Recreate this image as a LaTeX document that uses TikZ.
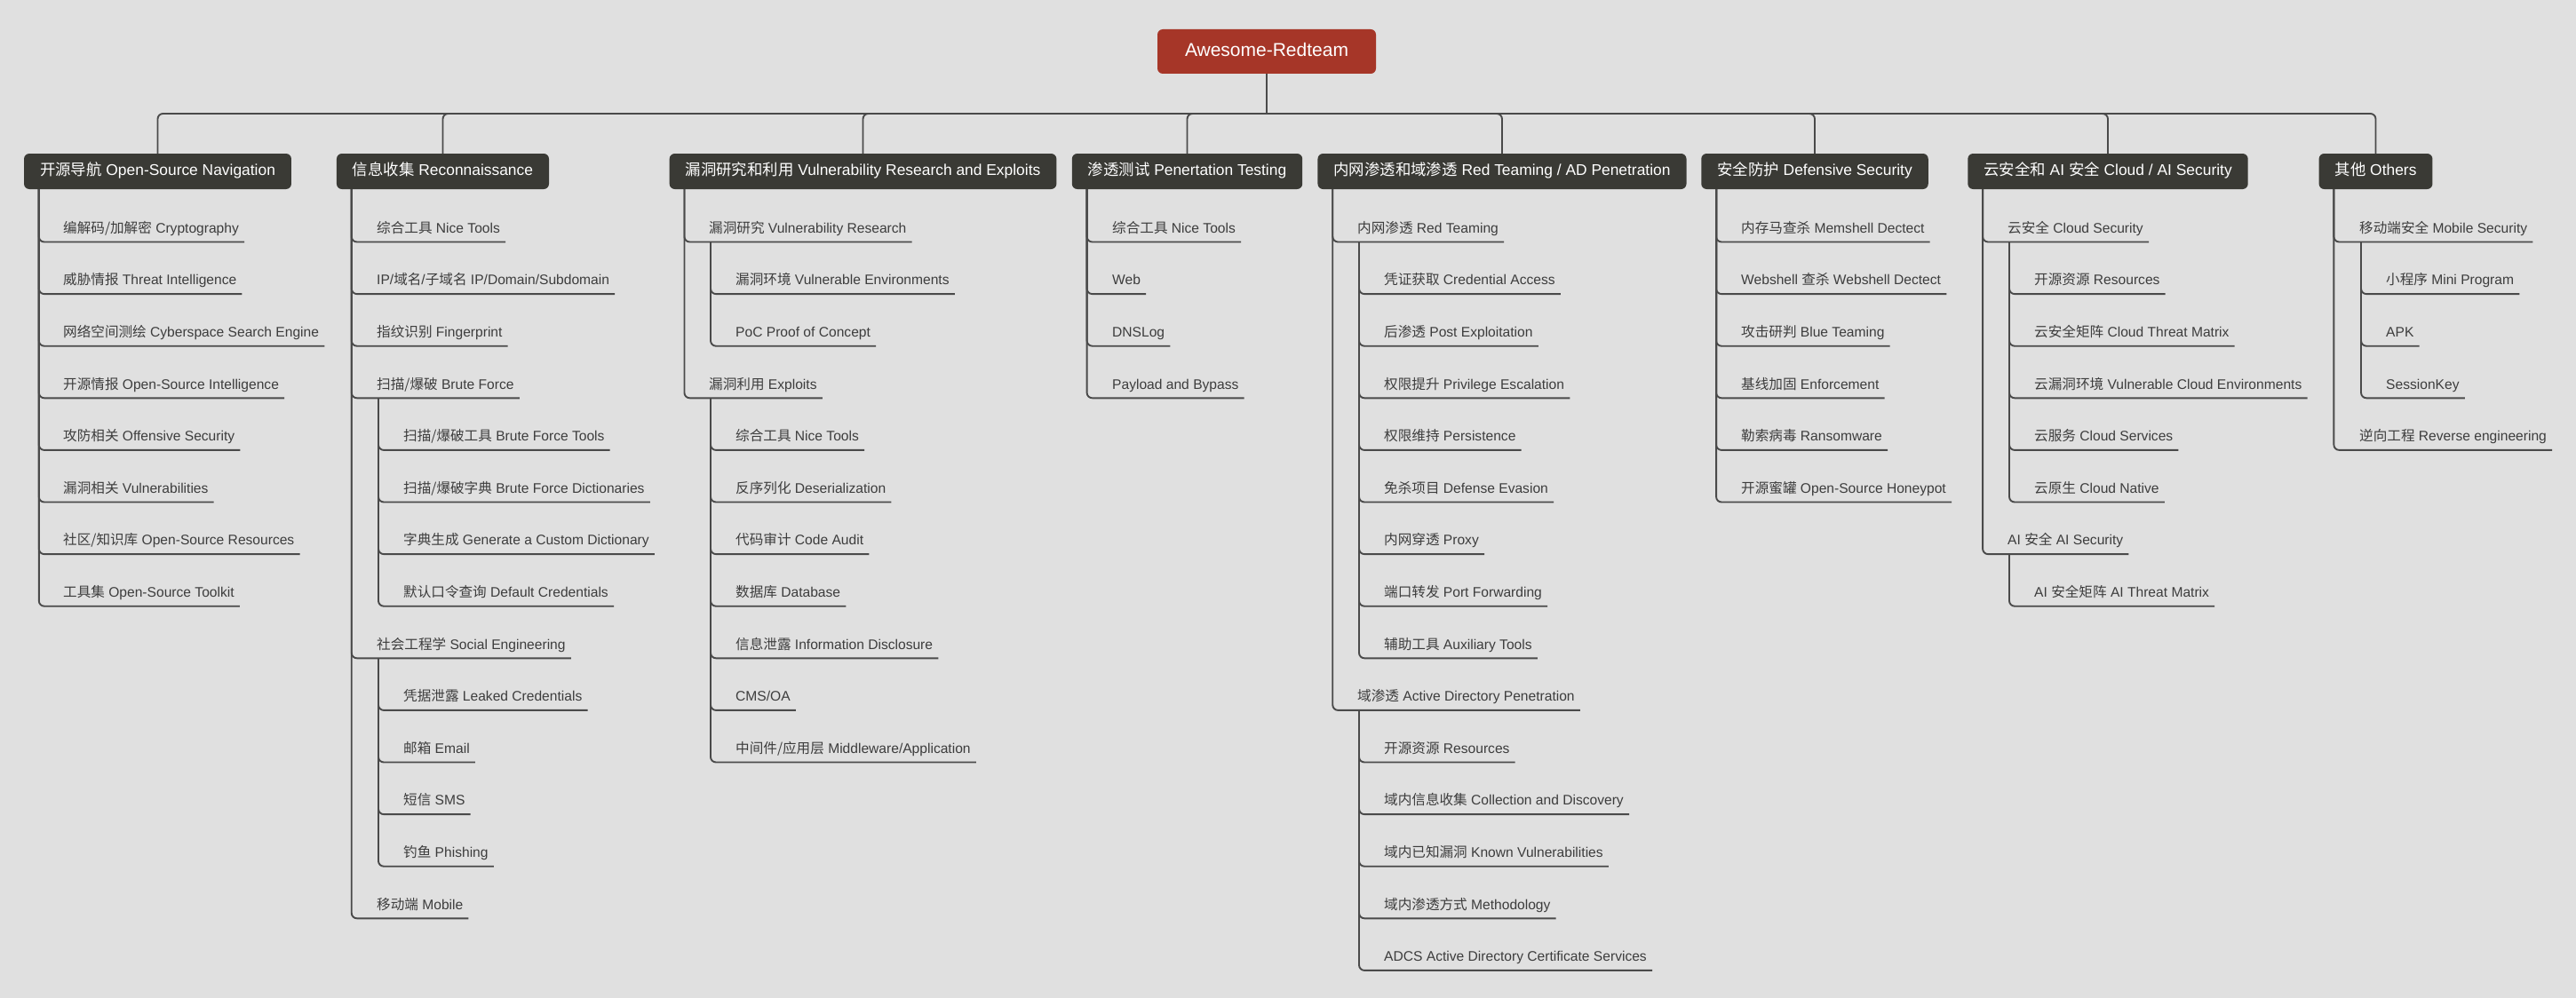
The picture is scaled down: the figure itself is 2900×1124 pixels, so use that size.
\documentclass[tikz,border=0pt]{standalone}
\usepackage{fontspec}
\setmainfont{Liberation Sans}
\newfontfamily\cjk{Noto Sans CJK SC}
\newcommand\zh[1]{{\cjk #1}}

\definecolor{bgcol}{HTML}{E0E0E0}
\definecolor{rootred}{HTML}{A63628}
\definecolor{catdark}{HTML}{3A3A35}
\definecolor{linecol}{HTML}{4A4A4A}
\definecolor{itemtext}{HTML}{3D3D3D}

\tikzset{
  root/.style={fill=rootred, text=white, rounded corners=6pt, inner xsep=31pt,
    minimum height=50pt, text height=15pt, text depth=4pt,
    font=\fontsize{21}{25}\selectfont},
  cat/.style={fill=catdark, text=white, rounded corners=6pt, inner xsep=18pt,
    minimum height=40pt, text height=12.5pt, text depth=3.5pt,
    font=\fontsize{17.4}{21}\selectfont},
  item/.style={anchor=south west, inner xsep=6pt, inner ysep=10pt,
    text height=11pt, text depth=0pt, text=itemtext,
    font=\fontsize{15.6}{19}\selectfont},
  link/.style={draw=linecol, line width=1.9pt, rounded corners=6pt},
}

\begin{document}
\begin{tikzpicture}[x=1pt,y=-1pt]

% background and page size
\fill[bgcol] (0,0) rectangle (2900,1124);
\useasboundingbox (0,0) rectangle (2900,1124);

% root and main branches
\node[root] (root) at (1426,58) {Awesome-Redteam};
\coordinate (hub) at (1426,128);
\node[cat] (nav) at (177.5,193) {\zh{开源导航} Open-Source Navigation};
\node[cat] (rec) at (498.5,193) {\zh{信息收集} Reconnaissance};
\node[cat] (vul) at (971.5,193) {\zh{漏洞研究和利用} Vulnerability Research and Exploits};
\node[cat] (pen) at (1336.5,193) {\zh{渗透测试} Penertation Testing};
\node[cat] (red) at (1691,193) {\zh{内网渗透和域渗透} Red Teaming / AD Penetration};
\node[cat] (def) at (2043,193) {\zh{安全防护} Defensive Security};
\node[cat] (cld) at (2373,193) {\zh{云安全和} AI \zh{安全} Cloud / AI Security};
\node[cat] (oth) at (2674.5,193) {\zh{其他} Others};

\draw[link] (root.south) -- (hub);
\draw[link] (hub) -| (nav.north);
\draw[link] (hub) -| (rec.north);
\draw[link] (hub) -| (vul.north);
\draw[link] (hub) -| (pen.north);
\draw[link] (hub) -| (red.north);
\draw[link] (hub) -| (def.north);
\draw[link] (hub) -| (cld.north);
\draw[link] (hub) -| (oth.north);

% Open-Source Navigation
\node[item] (nav1) at (65,272.5) {\zh{编解码/加解密} Cryptography};
\node[item] (nav2) at (65,331.1) {\zh{威胁情报} Threat Intelligence};
\node[item] (nav3) at (65,389.7) {\zh{网络空间测绘} Cyberspace Search Engine};
\node[item] (nav4) at (65,448.3) {\zh{开源情报} Open-Source Intelligence};
\node[item] (nav5) at (65,506.9) {\zh{攻防相关} Offensive Security};
\node[item] (nav6) at (65,565.5) {\zh{漏洞相关} Vulnerabilities};
\node[item] (nav7) at (65,624.1) {\zh{社区/知识库} Open-Source Resources};
\node[item] (nav8) at (65,682.7) {\zh{工具集} Open-Source Toolkit};

\draw[link] (nav.south west) ++(17,0) |- (nav1.south east);
\draw[link] (nav.south west) ++(17,0) |- (nav2.south east);
\draw[link] (nav.south west) ++(17,0) |- (nav3.south east);
\draw[link] (nav.south west) ++(17,0) |- (nav4.south east);
\draw[link] (nav.south west) ++(17,0) |- (nav5.south east);
\draw[link] (nav.south west) ++(17,0) |- (nav6.south east);
\draw[link] (nav.south west) ++(17,0) |- (nav7.south east);
\draw[link] (nav.south west) ++(17,0) |- (nav8.south east);

% Reconnaissance
\node[item] (rec1) at (418,272.5) {\zh{综合工具} Nice Tools};
\node[item] (rec2) at (418,331.1) {IP/\zh{域名}/\zh{子域名} IP/Domain/Subdomain};
\node[item] (rec3) at (418,389.7) {\zh{指纹识别} Fingerprint};
\node[item] (rec4) at (418,448.3) {\zh{扫描/爆破} Brute Force};
\node[item] (rec41) at (448,506.9) {\zh{扫描/爆破工具} Brute Force Tools};
\node[item] (rec42) at (448,565.5) {\zh{扫描/爆破字典} Brute Force Dictionaries};
\node[item] (rec43) at (448,624.1) {\zh{字典生成} Generate a Custom Dictionary};
\node[item] (rec44) at (448,682.7) {\zh{默认口令查询} Default Credentials};
\node[item] (rec5) at (418,741.3) {\zh{社会工程学} Social Engineering};
\node[item] (rec51) at (448,799.9) {\zh{凭据泄露} Leaked Credentials};
\node[item] (rec52) at (448,858.5) {\zh{邮箱} Email};
\node[item] (rec53) at (448,917.1) {\zh{短信} SMS};
\node[item] (rec54) at (448,975.7) {\zh{钓鱼} Phishing};
\node[item] (rec6) at (418,1034.3) {\zh{移动端} Mobile};

\draw[link] (rec.south west) ++(17,0) |- (rec1.south east);
\draw[link] (rec.south west) ++(17,0) |- (rec2.south east);
\draw[link] (rec.south west) ++(17,0) |- (rec3.south east);
\draw[link] (rec.south west) ++(17,0) |- (rec4.south east);
\draw[link] (rec.south west) ++(17,0) |- (rec5.south east);
\draw[link] (rec.south west) ++(17,0) |- (rec6.south east);
\draw[link] (rec4.south west) ++(8,0) |- (rec41.south east);
\draw[link] (rec4.south west) ++(8,0) |- (rec42.south east);
\draw[link] (rec4.south west) ++(8,0) |- (rec43.south east);
\draw[link] (rec4.south west) ++(8,0) |- (rec44.south east);
\draw[link] (rec5.south west) ++(8,0) |- (rec51.south east);
\draw[link] (rec5.south west) ++(8,0) |- (rec52.south east);
\draw[link] (rec5.south west) ++(8,0) |- (rec53.south east);
\draw[link] (rec5.south west) ++(8,0) |- (rec54.south east);

% Vulnerability Research and Exploits
\node[item] (vul1) at (792,272.5) {\zh{漏洞研究} Vulnerability Research};
\node[item] (vul11) at (822,331.1) {\zh{漏洞环境} Vulnerable Environments};
\node[item] (vul12) at (822,389.7) {PoC Proof of Concept};
\node[item] (vul2) at (792,448.3) {\zh{漏洞利用} Exploits};
\node[item] (vul21) at (822,506.9) {\zh{综合工具} Nice Tools};
\node[item] (vul22) at (822,565.5) {\zh{反序列化} Deserialization};
\node[item] (vul23) at (822,624.1) {\zh{代码审计} Code Audit};
\node[item] (vul24) at (822,682.7) {\zh{数据库} Database};
\node[item] (vul25) at (822,741.3) {\zh{信息泄露} Information Disclosure};
\node[item] (vul26) at (822,799.9) {CMS/OA};
\node[item] (vul27) at (822,858.5) {\zh{中间件/应用层} Middleware/Application};

\draw[link] (vul.south west) ++(17,0) |- (vul1.south east);
\draw[link] (vul.south west) ++(17,0) |- (vul2.south east);
\draw[link] (vul1.south west) ++(8,0) |- (vul11.south east);
\draw[link] (vul1.south west) ++(8,0) |- (vul12.south east);
\draw[link] (vul2.south west) ++(8,0) |- (vul21.south east);
\draw[link] (vul2.south west) ++(8,0) |- (vul22.south east);
\draw[link] (vul2.south west) ++(8,0) |- (vul23.south east);
\draw[link] (vul2.south west) ++(8,0) |- (vul24.south east);
\draw[link] (vul2.south west) ++(8,0) |- (vul25.south east);
\draw[link] (vul2.south west) ++(8,0) |- (vul26.south east);
\draw[link] (vul2.south west) ++(8,0) |- (vul27.south east);

% Penertation Testing
\node[item] (pen1) at (1246,272.5) {\zh{综合工具} Nice Tools};
\node[item] (pen2) at (1246,331.1) {Web};
\node[item] (pen3) at (1246,389.7) {DNSLog};
\node[item] (pen4) at (1246,448.3) {Payload and Bypass};

\draw[link] (pen.south west) ++(17,0) |- (pen1.south east);
\draw[link] (pen.south west) ++(17,0) |- (pen2.south east);
\draw[link] (pen.south west) ++(17,0) |- (pen3.south east);
\draw[link] (pen.south west) ++(17,0) |- (pen4.south east);

% Red Teaming / AD Penetration
\node[item] (red1) at (1522,272.5) {\zh{内网渗透} Red Teaming};
\node[item] (red11) at (1552,331.1) {\zh{凭证获取} Credential Access};
\node[item] (red12) at (1552,389.7) {\zh{后渗透} Post Exploitation};
\node[item] (red13) at (1552,448.3) {\zh{权限提升} Privilege Escalation};
\node[item] (red14) at (1552,506.9) {\zh{权限维持} Persistence};
\node[item] (red15) at (1552,565.5) {\zh{免杀项目} Defense Evasion};
\node[item] (red16) at (1552,624.1) {\zh{内网穿透} Proxy};
\node[item] (red17) at (1552,682.7) {\zh{端口转发} Port Forwarding};
\node[item] (red18) at (1552,741.3) {\zh{辅助工具} Auxiliary Tools};
\node[item] (red2) at (1522,799.9) {\zh{域渗透} Active Directory Penetration};
\node[item] (red21) at (1552,858.5) {\zh{开源资源} Resources};
\node[item] (red22) at (1552,917.1) {\zh{域内信息收集} Collection and Discovery};
\node[item] (red23) at (1552,975.7) {\zh{域内已知漏洞} Known Vulnerabilities};
\node[item] (red24) at (1552,1034.3) {\zh{域内渗透方式} Methodology};
\node[item] (red25) at (1552,1092.9) {ADCS Active Directory Certificate Services};

\draw[link] (red.south west) ++(17,0) |- (red1.south east);
\draw[link] (red.south west) ++(17,0) |- (red2.south east);
\draw[link] (red1.south west) ++(8,0) |- (red11.south east);
\draw[link] (red1.south west) ++(8,0) |- (red12.south east);
\draw[link] (red1.south west) ++(8,0) |- (red13.south east);
\draw[link] (red1.south west) ++(8,0) |- (red14.south east);
\draw[link] (red1.south west) ++(8,0) |- (red15.south east);
\draw[link] (red1.south west) ++(8,0) |- (red16.south east);
\draw[link] (red1.south west) ++(8,0) |- (red17.south east);
\draw[link] (red1.south west) ++(8,0) |- (red18.south east);
\draw[link] (red2.south west) ++(8,0) |- (red21.south east);
\draw[link] (red2.south west) ++(8,0) |- (red22.south east);
\draw[link] (red2.south west) ++(8,0) |- (red23.south east);
\draw[link] (red2.south west) ++(8,0) |- (red24.south east);
\draw[link] (red2.south west) ++(8,0) |- (red25.south east);

% Defensive Security
\node[item] (def1) at (1954,272.5) {\zh{内存马查杀} Memshell Dectect};
\node[item] (def2) at (1954,331.1) {Webshell \zh{查杀} Webshell Dectect};
\node[item] (def3) at (1954,389.7) {\zh{攻击研判} Blue Teaming};
\node[item] (def4) at (1954,448.3) {\zh{基线加固} Enforcement};
\node[item] (def5) at (1954,506.9) {\zh{勒索病毒} Ransomware};
\node[item] (def6) at (1954,565.5) {\zh{开源蜜罐} Open-Source Honeypot};

\draw[link] (def.south west) ++(17,0) |- (def1.south east);
\draw[link] (def.south west) ++(17,0) |- (def2.south east);
\draw[link] (def.south west) ++(17,0) |- (def3.south east);
\draw[link] (def.south west) ++(17,0) |- (def4.south east);
\draw[link] (def.south west) ++(17,0) |- (def5.south east);
\draw[link] (def.south west) ++(17,0) |- (def6.south east);

% Cloud / AI Security
\node[item] (cld1) at (2254,272.5) {\zh{云安全} Cloud Security};
\node[item] (cld11) at (2284,331.1) {\zh{开源资源} Resources};
\node[item] (cld12) at (2284,389.7) {\zh{云安全矩阵} Cloud Threat Matrix};
\node[item] (cld13) at (2284,448.3) {\zh{云漏洞环境} Vulnerable Cloud Environments};
\node[item] (cld14) at (2284,506.9) {\zh{云服务} Cloud Services};
\node[item] (cld15) at (2284,565.5) {\zh{云原生} Cloud Native};
\node[item] (cld2) at (2254,624.1) {AI \zh{安全} AI Security};
\node[item] (cld21) at (2284,682.7) {AI \zh{安全矩阵} AI Threat Matrix};

\draw[link] (cld.south west) ++(17,0) |- (cld1.south east);
\draw[link] (cld.south west) ++(17,0) |- (cld2.south east);
\draw[link] (cld1.south west) ++(8,0) |- (cld11.south east);
\draw[link] (cld1.south west) ++(8,0) |- (cld12.south east);
\draw[link] (cld1.south west) ++(8,0) |- (cld13.south east);
\draw[link] (cld1.south west) ++(8,0) |- (cld14.south east);
\draw[link] (cld1.south west) ++(8,0) |- (cld15.south east);
\draw[link] (cld2.south west) ++(8,0) |- (cld21.south east);

% Others
\node[item] (oth1) at (2650,272.5) {\zh{移动端安全} Mobile Security};
\node[item] (oth11) at (2680,331.1) {\zh{小程序} Mini Program};
\node[item] (oth12) at (2680,389.7) {APK};
\node[item] (oth13) at (2680,448.3) {SessionKey};
\node[item] (oth2) at (2650,506.9) {\zh{逆向工程} Reverse engineering};

\draw[link] (oth.south west) ++(17,0) |- (oth1.south east);
\draw[link] (oth.south west) ++(17,0) |- (oth2.south east);
\draw[link] (oth1.south west) ++(8,0) |- (oth11.south east);
\draw[link] (oth1.south west) ++(8,0) |- (oth12.south east);
\draw[link] (oth1.south west) ++(8,0) |- (oth13.south east);

\end{tikzpicture}
\end{document}
